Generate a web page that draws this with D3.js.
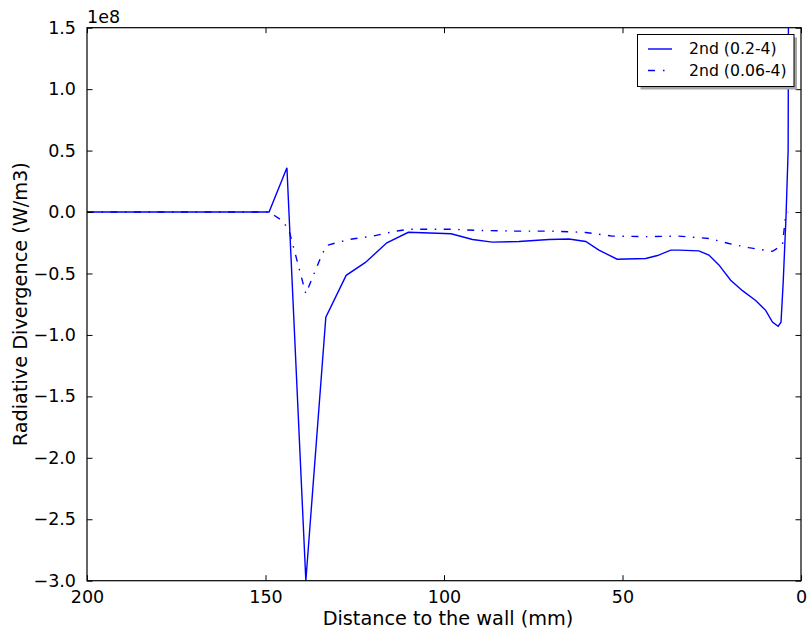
<!DOCTYPE html>
<html>
<head>
<meta charset="utf-8">
<script src="https://cdn.jsdelivr.net/npm/d3@7"></script>
<style>
  body { margin: 0; background: #fff; }
  text { font-family: "DejaVu Sans", sans-serif; fill: #000; }
</style>
</head>
<body>
<svg id="chart" width="807" height="633"></svg>
<script>
// distance to wall (mm) and divergence (units of 1e8 W/m3)
var distFine = [200, 149, 144, 138.7, 133.1, 127.4, 122, 116, 110, 98, 92, 86.5, 79, 70.6, 65, 60.3,
    56.6, 51.5, 43.5, 40.2, 36.5, 34.2, 28.6, 25.8, 23, 19.7, 16.4, 12.7, 9.9, 8, 6.4, 5.6, 5.0, 4.2, 3.6, 3.5];
var divFine = [0, 0, 0.36, -3.0, -0.855, -0.515, -0.41, -0.25, -0.165, -0.177, -0.223, -0.245, -0.24, -0.223, -0.22, -0.24,
    -0.31, -0.384, -0.378, -0.354, -0.31, -0.31, -0.316, -0.35, -0.43, -0.555, -0.64, -0.72, -0.80, -0.896, -0.93, -0.896, -0.58, -0.04, 0.5, 1.8];

var distCoarse = [200, 149, 145.3, 143.4, 138.7, 134.1, 132.7, 126.6, 120, 113.5, 109.8, 98, 90, 80, 70, 60.3,
    52.9, 43, 34.2, 25.8, 20.2, 14.6, 8, 5.2, 4.3, 3.6];
var divCoarse = [0, 0, -0.07, -0.15, -0.665, -0.34, -0.27, -0.223, -0.196, -0.155, -0.14, -0.14, -0.15, -0.155, -0.155, -0.166,
    -0.196, -0.2, -0.196, -0.215, -0.256, -0.29, -0.32, -0.27, -0.025, 0];

var seriesNames = ["2nd (0.2-4)", "2nd (0.06-4)"];
var xTicks = [200, 150, 100, 50, 0];
var yTicks = [1.5, 1.0, 0.5, 0.0, -0.5, -1.0, -1.5, -2.0, -2.5, -3.0];

var W = 807, H = 633;
var margin = {top: 27.7, right: 6, bottom: 52.3, left: 87};
var width = W - margin.left - margin.right;
var height = H - margin.top - margin.bottom;

var svg = d3.select("#chart");
var g = svg.append("g").attr("transform", "translate(" + margin.left + "," + margin.top + ")");

var x = d3.scaleLinear().domain([200, 0]).range([0, width]);
var y = d3.scaleLinear().domain([-3.0, 1.5]).range([height, 0]);

g.append("clipPath").attr("id", "clip")
    .append("rect").attr("width", width).attr("height", height);

var line = d3.line().x(d => x(d[0])).y(d => y(d[1]));

var fine = distFine.map((d, i) => [d, divFine[i]]);
var coarse = distCoarse.map((d, i) => [d, divCoarse[i]]);

var plot = g.append("g").attr("clip-path", "url(#clip)");
plot.append("path").datum(fine)
    .attr("d", line).attr("fill", "none")
    .attr("stroke", "#0000ff").attr("stroke-width", 1.4);
plot.append("path").datum(coarse)
    .attr("d", line).attr("fill", "none")
    .attr("stroke", "#0000ff").attr("stroke-width", 1.4)
    .attr("stroke-dasharray", "7,7.5,1.5,7.5");

// ticks inside on all four sides
var fmtY = v => d3.format(".1f")(v).replace("-", "\u2212");
var tl = 5.5;
var axB = d3.axisBottom(x).tickValues(xTicks).tickSizeInner(-tl).tickSizeOuter(0).tickPadding(10).tickFormat(d3.format("d"));
var axT = d3.axisTop(x).tickValues(xTicks).tickSizeInner(-tl).tickSizeOuter(0).tickFormat("");
var axL = d3.axisLeft(y).tickValues(yTicks).tickSizeInner(-tl).tickSizeOuter(0).tickPadding(11).tickFormat(fmtY);
var axR = d3.axisRight(y).tickValues(yTicks).tickSizeInner(-tl).tickSizeOuter(0).tickFormat("");

var gB = g.append("g").attr("transform", "translate(0," + height + ")").call(axB);
var gT = g.append("g").call(axT);
var gL = g.append("g").call(axL);
var gR = g.append("g").attr("transform", "translate(" + width + ",0)").call(axR);
[gB, gT, gL, gR].forEach(a => {
    a.select(".domain").remove();
    a.selectAll("line").attr("stroke", "#000").attr("stroke-width", 1);
    a.selectAll("text").style("font-family", "DejaVu Sans").style("font-size", "17.5px").attr("fill", "#000");
});
gB.selectAll("text").attr("dy", "0.71em");

g.append("rect").attr("width", width).attr("height", height)
    .attr("fill", "none").attr("stroke", "#000").attr("stroke-width", 1.2);

// offset text and axis labels
g.append("text").attr("x", 0).attr("y", -5).style("font-size", "17.5px").text("1e8");

svg.append("text")
    .attr("x", margin.left + width / 2 + 4).attr("y", 625)
    .attr("text-anchor", "middle").style("font-size", "19.3px")
    .text("Distance to the wall (mm)");

svg.append("text")
    .attr("transform", "translate(27," + (margin.top + height / 2) + ") rotate(-90)")
    .attr("text-anchor", "middle").style("font-size", "19.3px")
    .text("Radiative Divergence (W/m3)");

// legend with shadow
var lg = svg.append("g").attr("transform", "translate(637.5,34.5)");
var lw = 156.5, lh = 52;
lg.append("rect").attr("x", 3).attr("y", 3).attr("width", lw).attr("height", lh).attr("fill", "#a6a6a6");
lg.append("rect").attr("width", lw).attr("height", lh).attr("fill", "#fff").attr("stroke", "#000").attr("stroke-width", 1);
seriesNames.forEach((name, i) => {
    var yy = 14.5 + i * 21.5;
    lg.append("line").attr("x1", 10.5).attr("x2", 34.5).attr("y1", yy).attr("y2", yy)
        .attr("stroke", "#0000ff").attr("stroke-width", 1.4)
        .attr("stroke-dasharray", i === 1 ? "7,8,1.5,7.5" : null);
    lg.append("text").attr("x", 51.5).attr("y", yy).attr("dy", "0.35em")
        .style("font-size", "15.7px").text(name);
});
</script>
</body>
</html>
